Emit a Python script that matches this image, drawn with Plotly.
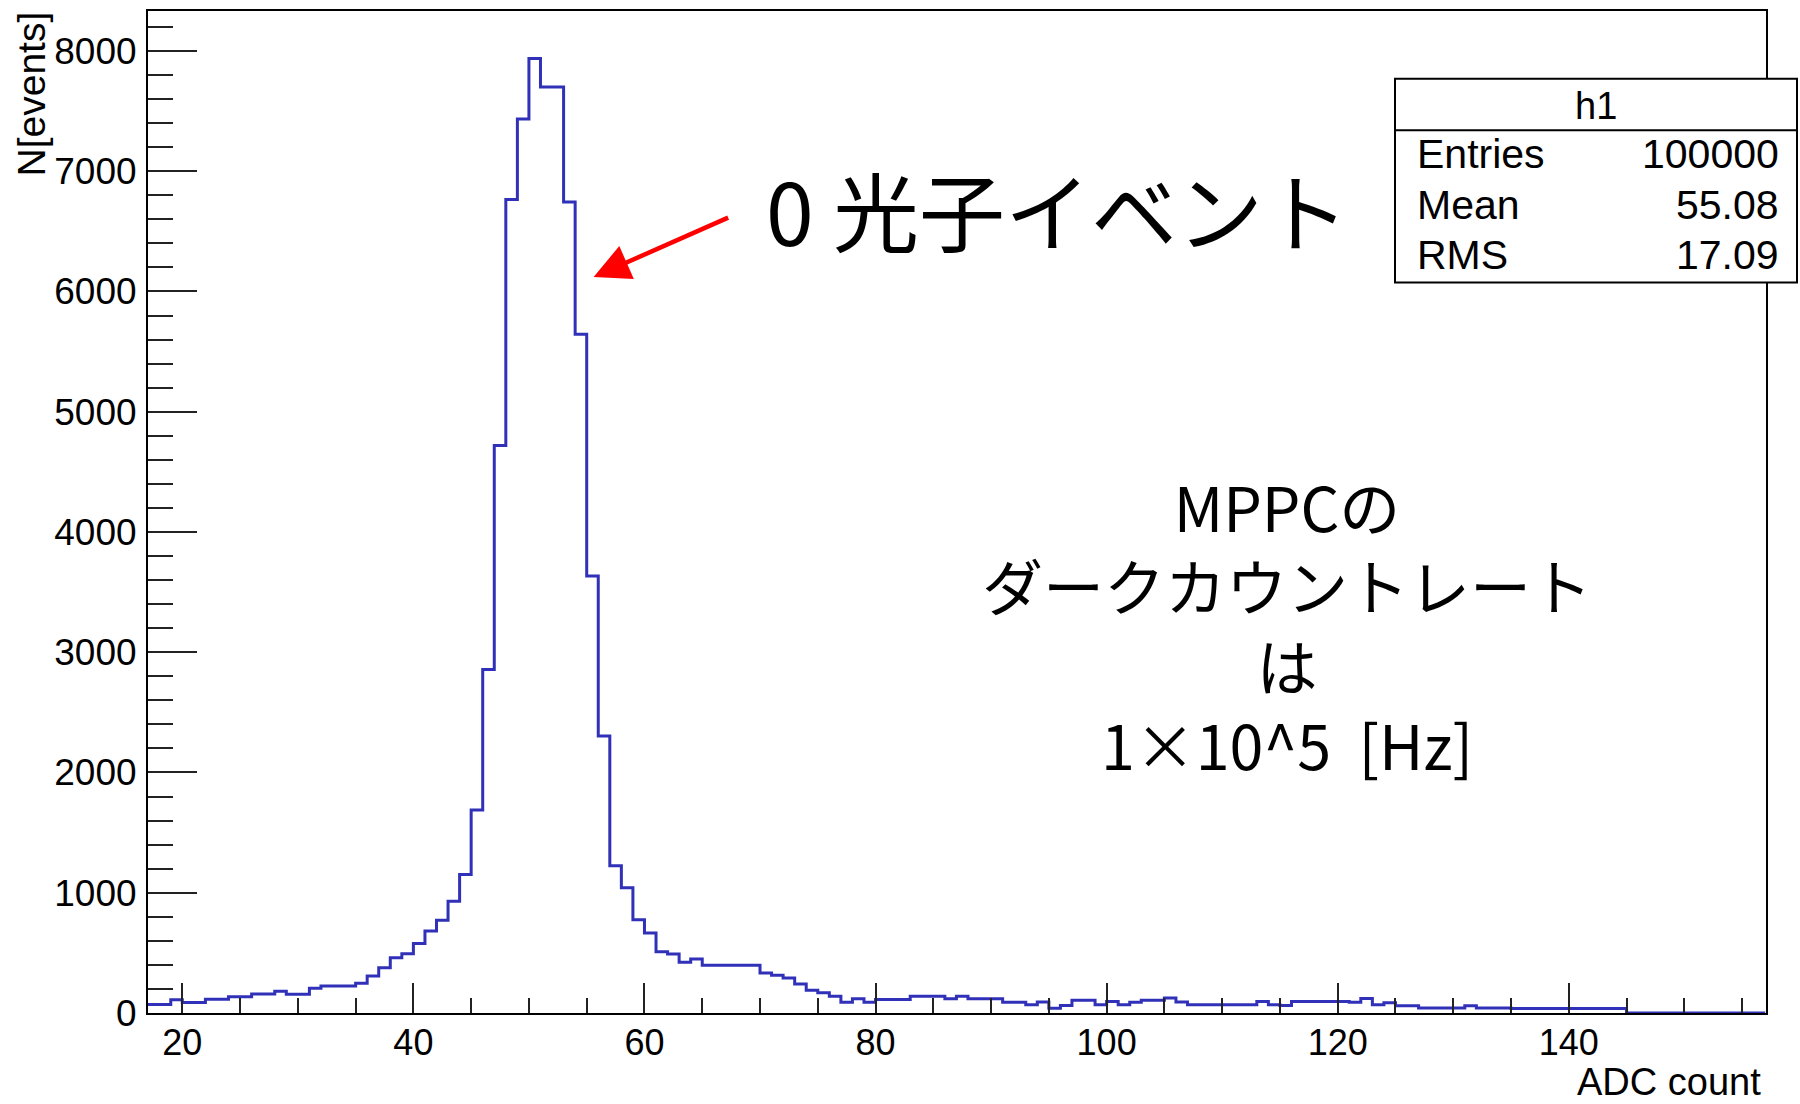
import plotly.graph_objects as go

# ---------------- data ----------------
bin_low = 17          # first bin low edge (ADC count)
bin_width = 1
counts = [
    70, 70, 110, 88, 88, 114, 114, 136, 136, 158,          # 17-26
    158, 180, 155, 155, 205, 224, 224, 224, 247, 308,      # 27-36
    377, 460, 493, 578, 682, 772, 930, 1151, 1689, 2856,   # 37-46
    4718, 6765, 7434, 7936, 7700, 7700, 6743, 5645, 3633, 2303,  # 47-56
    1225, 1042, 776, 665, 510, 490, 422, 450, 397, 397,    # 57-66
    397, 397, 397, 333, 314, 292, 242, 189, 168, 139,      # 67-76
    90, 118, 90, 112, 112, 112, 139, 139, 139, 118,        # 77-86
    139, 118, 118, 118, 90, 90, 68, 92, 40, 63,            # 87-96
    105, 105, 69, 96, 69, 90, 105, 105, 124, 91,           # 97-106
    69, 69, 69, 69, 69, 69, 96, 69, 62, 96,                # 107-116
    96, 96, 96, 96, 90, 120, 69, 85, 61, 61,               # 117-126
    41, 41, 41, 41, 61, 41, 41, 41, 38, 38,                # 127-136
    38, 38, 38, 38, 38, 38, 38, 38, 0, 0,                  # 137-146
    0, 0, 0, 0, 0, 0, 0, 0, 0, 0,                          # 147-156
]
x_range = [17.03, 157.07]
y_range = [0, 8332]

stats_name = "h1"
stats_labels = ["Entries", "Mean", "RMS"]
stats_values = ["100000", "55.08", "17.09"]

x_title = "ADC count"
y_title = "N[events]"
peak_label = "0 光子イベント"
note_lines = ["MPPCの", "ダークカウントレート", "は", "1×10^5  [Hz]"]
arrow_tip = (55.6, 6120)   # data coordinates pointed at by the arrow

# ---------------- figure ----------------
W, H = 1800, 1104
ML, MR, MT, MB = 148, 34, 9, 91
PW, PH = W - ML - MR, H - MT - MB


def px(x):
    return (x - ML) / PW


def py(y):
    return (H - MB - y) / PH


edges = [bin_low + i * bin_width for i in range(len(counts) + 1)]
ys = counts + [counts[-1]]

fig = go.Figure()
fig.add_trace(go.Scatter(
    x=edges, y=ys, mode="lines", line_shape="hv",
    line=dict(color="#3030b8", width=3), showlegend=False, hoverinfo="skip",
))

FONT = "Liberation Sans, Arial, Helvetica, sans-serif"
JFONT = "Noto Sans CJK JP, Noto Sans, sans-serif"

fig.update_layout(
    width=W, height=H,
    margin=dict(l=ML, r=MR, t=MT, b=MB, pad=0),
    paper_bgcolor="white", plot_bgcolor="white",
    font=dict(family=FONT, color="black"),
)
fig.update_xaxes(
    range=x_range, showgrid=False, zeroline=False,
    showline=True, linecolor="black", linewidth=2, mirror=True,
    ticks="inside", ticklen=30, tickwidth=2, tickcolor="#222",
    tick0=0, dtick=20,
    minor=dict(ticks="inside", ticklen=15, tickwidth=2, tickcolor="#222", dtick=5),
    tickfont=dict(size=36, family=FONT, color="black"),
    ticklabelstandoff=-3,
)
fig.update_yaxes(
    range=y_range, showgrid=False, zeroline=False,
    showline=True, linecolor="black", linewidth=2, mirror=True,
    ticks="inside", ticklen=49, tickwidth=2, tickcolor="#222",
    tick0=0, dtick=1000,
    minor=dict(ticks="inside", ticklen=25, tickwidth=2, tickcolor="#222", dtick=200),
    tickfont=dict(size=37, family=FONT, color="black"),
    ticklabelstandoff=2,
)

annotations = []
# axis titles
annotations.append(dict(
    text=x_title, xref="paper", yref="paper", x=px(1763), y=py(1082),
    xanchor="right", yanchor="middle", showarrow=False,
    font=dict(size=38, family=FONT, color="black"),
))
annotations.append(dict(
    text=y_title, xref="paper", yref="paper", x=px(32), y=py(8),
    xanchor="center", yanchor="top", textangle=-90, showarrow=False,
    font=dict(size=39, family=FONT, color="black"),
))

# stats box
shapes = [
    dict(type="rect", xref="paper", yref="paper",
         x0=px(1395), x1=px(1797), y0=py(281), y1=py(77),
         line=dict(color="black", width=2), fillcolor="white", layer="above"),
    dict(type="line", xref="paper", yref="paper",
         x0=px(1395), x1=px(1797), y0=py(128.5), y1=py(128.5),
         line=dict(color="black", width=2), layer="above"),
]
annotations.append(dict(
    text=stats_name, xref="paper", yref="paper", x=px(1596), y=py(104),
    xanchor="center", yanchor="middle", showarrow=False,
    font=dict(size=38, family=FONT, color="black"),
))
row_y = [152, 203, 253]
for lab, val, yy in zip(stats_labels, stats_values, row_y):
    annotations.append(dict(
        text=lab, xref="paper", yref="paper", x=px(1415), y=py(yy),
        xanchor="left", yanchor="middle", showarrow=False,
        font=dict(size=41, family=FONT, color="black"),
    ))
    annotations.append(dict(
        text=val, xref="paper", yref="paper", x=px(1781), y=py(yy),
        xanchor="right", yanchor="middle", showarrow=False,
        font=dict(size=41, family=FONT, color="black"),
    ))

# peak label with arrow
annotations.append(dict(
    text=peak_label, xref="paper", yref="paper", x=px(764), y=py(207),
    xanchor="left", yanchor="middle", showarrow=False,
    font=dict(size=86, family=JFONT, color="black"),
))
annotations.append(dict(
    text="", x=arrow_tip[0], y=arrow_tip[1], xref="x", yref="y",
    ax=136, ay=-60, axref="pixel", ayref="pixel",
    showarrow=True, arrowhead=2, arrowsize=1.6, arrowwidth=4.5,
    arrowcolor="#ff0000", standoff=0,
))

# note block
annotations.append(dict(
    text="<br>".join(note_lines), xref="paper", yref="paper",
    x=px(1287), y=py(624), xanchor="center", yanchor="middle", align="center",
    showarrow=False, font=dict(size=61, family=JFONT, color="black"),
))

fig.update_layout(annotations=annotations, shapes=shapes)
fig.write_html("out.html")
